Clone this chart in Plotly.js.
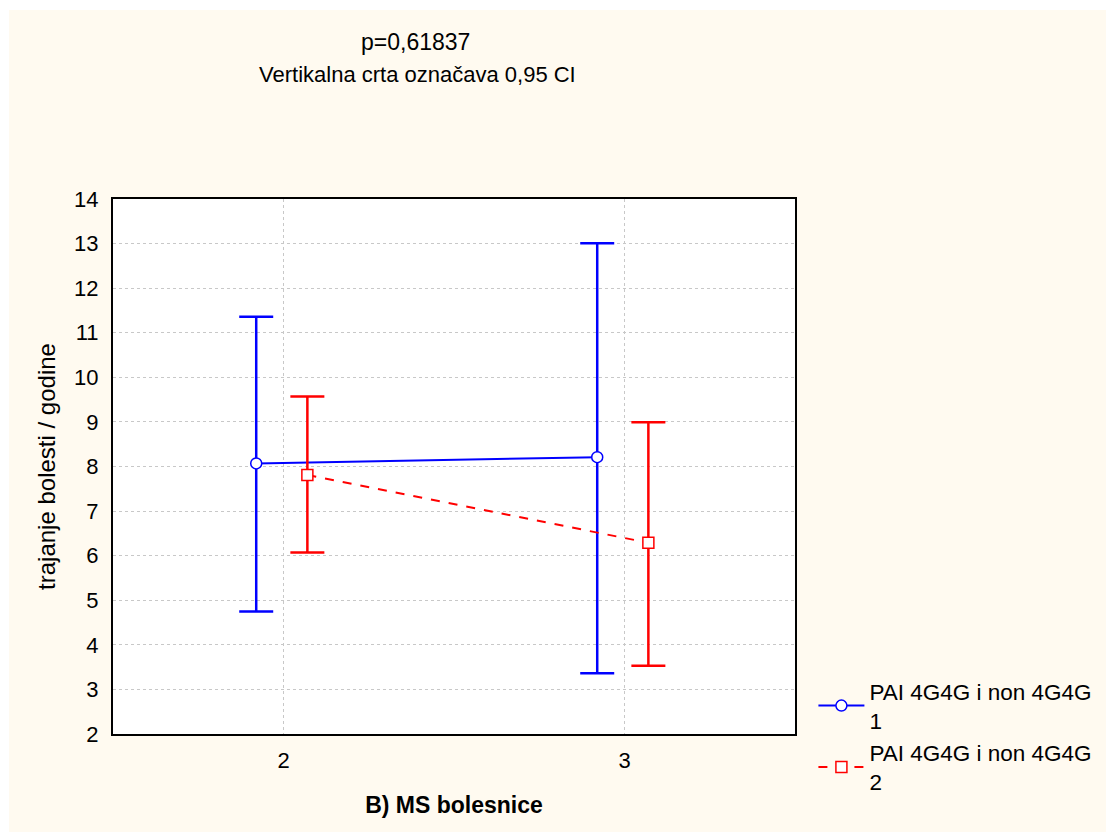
<!DOCTYPE html>
<html>
<head>
<meta charset="utf-8">
<script src="https://cdn.plot.ly/plotly-3.0.1.min.js"></script>
<style>
html,body{margin:0;padding:0;background:#ffffff;}
#chart{position:absolute;left:9px;top:10px;width:1097px;height:822px;}
</style>
</head>
<body>
<div id="chart"></div>
<script>
// Data
const categories = [2, 3];
const seriesNames = ['PAI 4G4G i non 4G4G<br>1', 'PAI 4G4G i non 4G4G<br>2'];
const offsets = [-0.08, 0.07];
const means1 = [8.07, 8.21];
const upper1 = [11.36, 13.01];
const lower1 = [4.75, 3.36];
const means2 = [7.81, 6.29];
const upper2 = [9.57, 8.99];
const lower2 = [6.07, 3.53];
const yTicks = [2, 3, 4, 5, 6, 7, 8, 9, 10, 11, 12, 13, 14];
const xTickLabels = ['2', '3'];

const FONT = 'Liberation Sans, Arial, sans-serif';

function mk(name, means, up, lo, off, color, symbol, dash) {
  return {
    type: 'scatter',
    mode: 'lines+markers',
    name: name,
    x: categories.map(c => c + off),
    y: means,
    line: {color: color, width: 2, dash: dash},
    marker: {symbol: symbol, size: 11, color: '#ffffff', line: {color: color, width: 1.5}},
    error_y: {
      type: 'data', symmetric: false,
      array: up.map((u, i) => u - means[i]),
      arrayminus: lo.map((l, i) => means[i] - l),
      color: color, thickness: 2.5, width: 17
    }
  };
}

const data = [
  mk(seriesNames[0], means1, upper1, lower1, offsets[0], '#0000ff', 'circle', 'solid'),
  mk(seriesNames[1], means2, upper2, lower2, offsets[1], '#ff0000', 'square', 'dash')
];

const layout = {
  width: 1097, height: 822,
  paper_bgcolor: '#fffaf0',
  plot_bgcolor: '#ffffff',
  margin: {l: 104, r: 311, t: 189, b: 98, autoexpand: false},
  font: {family: FONT, size: 22, color: '#000000'},
  showlegend: true,
  legend: {
    x: 1.027, y: 0.12, xanchor: 'left', yanchor: 'top',
    bgcolor: 'rgba(0,0,0,0)', font: {family: FONT, size: 22.5, color: '#000'},
    itemwidth: 46, tracegroupgap: 2
  },
  xaxis: {
    range: [1.5, 3.5],
    tickvals: categories, ticktext: xTickLabels,
    showline: true, mirror: true, linecolor: '#000', linewidth: 2,
    showgrid: true, gridcolor: '#c8c8c8', griddash: 'dot', gridwidth: 1,
    zeroline: false, ticks: '', ticklen: 0, ticklabelstandoff: 6,
    tickfont: {family: FONT, size: 22},
    title: {text: '<b>B) MS bolesnice</b>', font: {family: FONT, size: 23}, standoff: 24}
  },
  yaxis: {
    range: [2, 14],
    tickvals: yTicks,
    showline: true, mirror: true, linecolor: '#000', linewidth: 2,
    showgrid: true, gridcolor: '#c8c8c8', griddash: 'dot', gridwidth: 1,
    zeroline: false, ticks: '', ticklen: 0, ticklabelstandoff: 8,
    tickfont: {family: FONT, size: 22},
    title: {text: 'trajanje bolesti / godine', font: {family: FONT, size: 24}, standoff: 12}
  },
  annotations: [
    {text: 'p=0,61837', xref: 'paper', yref: 'paper', x: 0.443, y: 1.2935,
     xanchor: 'center', yanchor: 'middle', showarrow: false, font: {family: FONT, size: 23}},
    {text: 'Vertikalna crta označava 0,95 CI', xref: 'paper', yref: 'paper', x: 0.447, y: 1.2318,
     xanchor: 'center', yanchor: 'middle', showarrow: false, font: {family: FONT, size: 22}}
  ]
};

Plotly.newPlot('chart', data, layout, {displayModeBar: false, staticPlot: true});
</script>
</body>
</html>
